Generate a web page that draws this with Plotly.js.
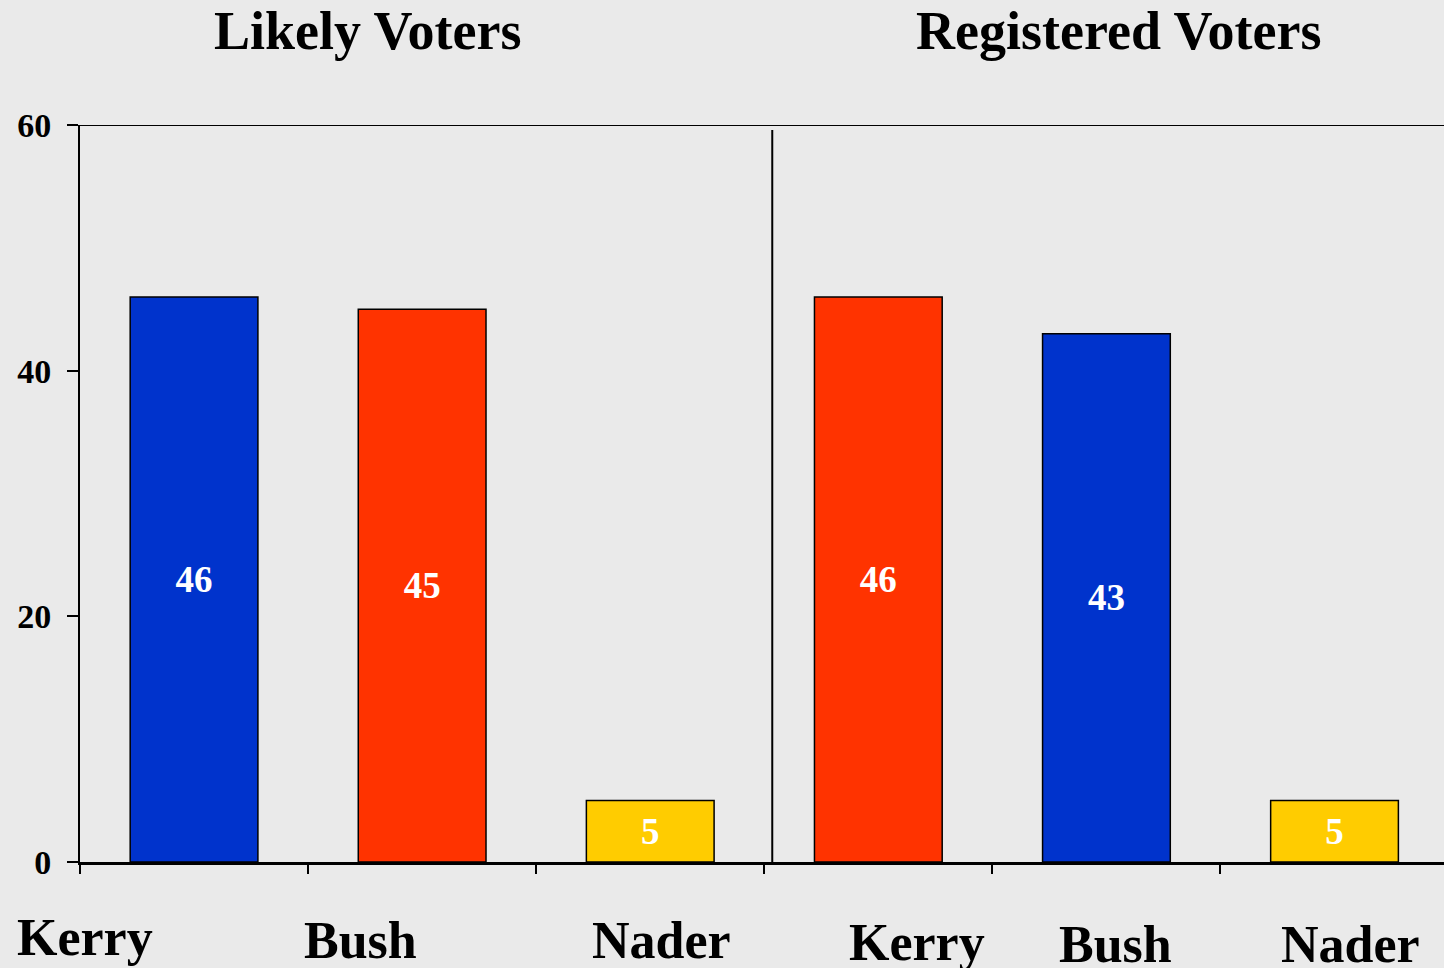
<!DOCTYPE html>
<html>
<head>
<meta charset="utf-8">
<script src="https://cdn.plot.ly/plotly-3.0.1.min.js"></script>
<style>
html,body{margin:0;padding:0;background:#EAEAEA;}
#chart{width:1444px;height:968px;}
</style>
</head>
<body>
<div id="chart"></div>
<script>
// Data
const groups = ["Likely Voters", "Registered Voters"];
const candidates = ["Kerry", "Bush", "Nader", "Kerry", "Bush", "Nader"];
const values = [46, 45, 5, 46, 43, 5];
const barColors = ["#0033CC", "#FF3300", "#FFCC00", "#FF3300", "#0033CC", "#FFCC00"];
const yTicks = [0, 20, 40, 60];

const FONT = "Liberation Serif, Times New Roman, serif";
const xIdx = candidates.map((_, i) => i);

const trace = {
  type: "bar",
  x: xIdx,
  y: values,
  width: 0.56,
  marker: { color: barColors, line: { color: "#000000", width: 1.5 } },
  text: values.map(String),
  textposition: "inside",
  insidetextanchor: "middle",
  constraintext: "none",
  textfont: { family: FONT, size: 37, color: "#FFFFFF", weight: "bold" },
  hoverinfo: "skip"
};

// label placement (layout only)
const labelX = [-0.48, 0.73, 2.05, 3.17, 4.04, 5.07];
const labelYpx = [937, 940, 940, 942, 944, 944];
const plotTop = 125, plotBottom = 862, plotH = plotBottom - plotTop;

const annotations = [];
candidates.forEach((c, i) => {
  annotations.push({
    text: "<b>" + c + "</b>", x: labelX[i], xref: "x",
    y: (plotBottom - labelYpx[i]) / plotH, yref: "paper",
    xanchor: "center", yanchor: "middle", showarrow: false,
    font: { family: FONT, size: 52, color: "#000000" }
  });
});
const titleX = [0.211, 0.761];
groups.forEach((g, i) => {
  annotations.push({
    text: "<b>" + g + "</b>", x: titleX[i], xref: "paper",
    y: 1 + (plotTop - 31) / plotH, yref: "paper",
    xanchor: "center", yanchor: "middle", showarrow: false,
    font: { family: FONT, size: 54, color: "#000000" }
  });
});

const layout = {
  width: 1444, height: 968,
  paper_bgcolor: "#EAEAEA", plot_bgcolor: "#EAEAEA",
  margin: { l: 80, r: 0, t: 125, b: 106, pad: 0 },
  showlegend: false,
  xaxis: {
    range: [-0.5, 5.48], showgrid: false, zeroline: false,
    showline: true, linecolor: "#000000", linewidth: 2.5,
    tickmode: "array", tickvals: [-0.5, 0.5, 1.5, 2.5, 3.5, 4.5],
    ticktext: ["", "", "", "", "", ""],
    ticks: "outside", ticklen: 9, tickwidth: 2, tickcolor: "#000000",
    fixedrange: true
  },
  yaxis: {
    range: [0, 60], showgrid: false, zeroline: false,
    showline: true, linecolor: "#000000", linewidth: 2,
    tickmode: "array", tickvals: yTicks, ticktext: yTicks.map(String),
    ticks: "outside", ticklen: 11, tickwidth: 2, tickcolor: "#000000",
    tickfont: { family: FONT, size: 34, color: "#000000", weight: "bold" },
    ticklabelstandoff: 9,
    fixedrange: true
  },
  shapes: [
    { type: "line", xref: "paper", x0: 0, x1: 1, yref: "y", y0: 60, y1: 60,
      line: { color: "#000000", width: 2 } },
    { type: "line", xref: "x", x0: 2.535, x1: 2.535, yref: "y", y0: -0.38, y1: 59.6,
      line: { color: "#000000", width: 2 } }
  ],
  annotations: annotations,
  bargap: 0
};

Plotly.newPlot("chart", [trace], layout, { displayModeBar: false, staticPlot: true });
</script>
</body>
</html>
